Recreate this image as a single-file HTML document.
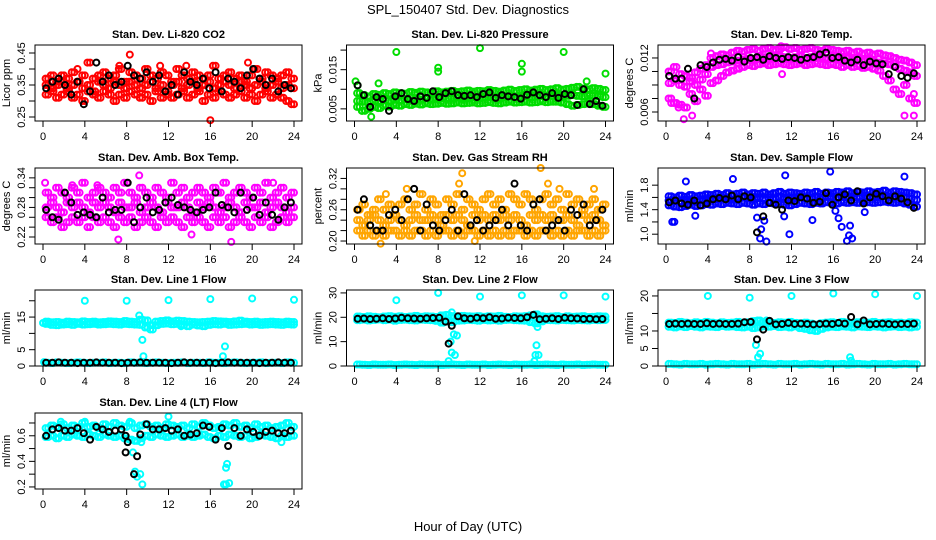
<!DOCTYPE html>
<html><head><meta charset="utf-8"><style>
html,body{margin:0;padding:0;background:#fff;}
svg{display:block;font-family:"Liberation Sans",Arial,sans-serif;}
</style></head><body>
<svg id="chart" width="936" height="540" viewBox="0 0 936 540">
<text x="468" y="14" text-anchor="middle" font-size="13">SPL_150407  Std. Dev. Diagnostics</text>
<text x="468" y="531" text-anchor="middle" font-size="13">Hour of Day (UTC)</text>
</svg>
<script>
const hoursColor=[0.25,0.75,1.25,1.75,2.25,2.75,3.25,3.75,4.25,4.75,5.25,5.75,6.25,6.75,7.25,7.75,8.25,8.75,9.25,9.75,10.25,10.75,11.25,11.75,12.25,12.75,13.25,13.75,14.25,14.75,15.25,15.75,16.25,16.75,17.25,17.75,18.25,18.75,19.25,19.75,20.25,20.75,21.25,21.75,22.25,22.75,23.25,23.75];
const hoursBlack=[0.3,0.9,1.5,2.1,2.7,3.3,3.9,4.5,5.1,5.7,6.3,6.9,7.5,8.1,8.7,9.3,9.9,10.5,11.1,11.7,12.3,12.9,13.5,14.1,14.7,15.3,15.9,16.5,17.1,17.7,18.3,18.9,19.5,20.1,20.7,21.3,21.9,22.5,23.1,23.7];
const xTicks=[0,4,8,12,16,20,24];

const co2Hi=[0.37,0.38,0.36,0.38,0.37,0.39,0.36,0.38,0.42,0.37,0.38,0.39,0.37,0.38,0.40,0.36,0.39,0.38,0.37,0.40,0.38,0.37,0.39,0.38,0.36,0.40,0.38,0.37,0.39,0.38,0.37,0.38,0.41,0.37,0.38,0.39,0.37,0.38,0.36,0.38,0.40,0.37,0.39,0.38,0.37,0.38,0.39,0.37];
const co2Mid=[0.35,0.34,0.35,0.36,0.34,0.35,0.36,0.34,0.35,0.33,0.36,0.35,0.34,0.36,0.35,0.34,0.36,0.35,0.34,0.35,0.36,0.34,0.35,0.33,0.35,0.36,0.34,0.35,0.36,0.34,0.35,0.36,0.34,0.35,0.36,0.35,0.34,0.36,0.35,0.34,0.35,0.36,0.34,0.35,0.36,0.34,0.35,0.34];
const co2Lo=[0.32,0.33,0.31,0.32,0.33,0.31,0.32,0.30,0.33,0.32,0.31,0.33,0.32,0.30,0.32,0.31,0.33,0.32,0.31,0.32,0.30,0.33,0.31,0.32,0.31,0.32,0.33,0.31,0.32,0.33,0.30,0.32,0.31,0.33,0.32,0.31,0.32,0.33,0.31,0.32,0.30,0.32,0.33,0.31,0.32,0.31,0.30,0.29];
const co2Out=[[8.3,0.445],[16,0.24],[13.7,0.41],[19.6,0.42],[11.2,0.41],[3.3,0.40],[7.3,0.41]];
const co2Black=[0.34,0.36,0.37,0.35,0.32,0.36,0.29,0.33,0.42,0.36,0.38,0.35,0.36,0.41,0.38,0.37,0.39,0.36,0.38,0.33,0.35,0.32,0.39,0.36,0.35,0.37,0.34,0.39,0.33,0.37,0.36,0.34,0.38,0.40,0.37,0.35,0.37,0.33,0.35,0.34];

const prHi=[0.0090,0.0085,0.0082,0.0088,0.0086,0.0090,0.0088,0.0092,0.0090,0.0089,0.0093,0.0091,0.0094,0.0092,0.0090,0.0095,0.0092,0.0094,0.0096,0.0093,0.0095,0.0097,0.0094,0.0096,0.0095,0.0098,0.0096,0.0094,0.0097,0.0099,0.0096,0.0098,0.0100,0.0097,0.0099,0.0101,0.0098,0.0100,0.0103,0.0099,0.0101,0.0104,0.0106,0.0102,0.0100,0.0103,0.0101,0.0098];
const prMid=[0.0070,0.0068,0.0066,0.0071,0.0069,0.0072,0.0070,0.0073,0.0071,0.0074,0.0072,0.0075,0.0073,0.0076,0.0074,0.0075,0.0077,0.0075,0.0076,0.0078,0.0076,0.0077,0.0079,0.0077,0.0078,0.0080,0.0078,0.0077,0.0079,0.0081,0.0079,0.0080,0.0082,0.0080,0.0081,0.0083,0.0081,0.0082,0.0084,0.0082,0.0083,0.0085,0.0083,0.0082,0.0084,0.0083,0.0082,0.0080];
const prLo=[0.0055,0.0045,0.0050,0.0055,0.0052,0.0058,0.0056,0.0060,0.0058,0.0062,0.0060,0.0063,0.0061,0.0064,0.0062,0.0063,0.0065,0.0063,0.0064,0.0066,0.0064,0.0065,0.0066,0.0064,0.0065,0.0067,0.0065,0.0064,0.0066,0.0068,0.0066,0.0067,0.0068,0.0066,0.0067,0.0069,0.0067,0.0068,0.0068,0.0066,0.0062,0.0058,0.0060,0.0062,0.0064,0.0062,0.0058,0.0055];
const prOut=[[0.1,0.012],[0.3,0.011],[0.7,0.0045],[1.6,0.003],[4,0.0195],[8,0.0155],[8,0.0145],[12,0.0205],[16,0.0165],[16,0.0145],[20,0.0195],[24,0.014],[22.2,0.012],[2.3,0.0115]];
const prBlack=[0.0110,0.0085,0.0055,0.0080,0.0075,0.0045,0.0082,0.0090,0.0075,0.0070,0.0082,0.0078,0.0095,0.0080,0.0090,0.0095,0.0085,0.0083,0.0085,0.0080,0.0088,0.0092,0.0078,0.0085,0.0082,0.0080,0.0076,0.0086,0.0092,0.0085,0.0080,0.0090,0.0078,0.0088,0.0085,0.0060,0.0100,0.0062,0.0070,0.0058];

const tpHi=[0.0105,0.0110,0.0102,0.0100,0.0098,0.0104,0.0108,0.0112,0.0120,0.0122,0.0124,0.0123,0.0126,0.0128,0.0127,0.0129,0.0130,0.0128,0.0130,0.0131,0.0129,0.0130,0.0132,0.0130,0.0131,0.0129,0.0130,0.0131,0.0129,0.0128,0.0130,0.0129,0.0128,0.0127,0.0128,0.0126,0.0127,0.0125,0.0126,0.0124,0.0125,0.0123,0.0122,0.0120,0.0118,0.0117,0.0115,0.0112];
const tpMid=[0.0092,0.0095,0.0090,0.0088,0.0094,0.0090,0.0096,0.0102,0.0110,0.0112,0.0113,0.0115,0.0116,0.0117,0.0118,0.0119,0.0119,0.0120,0.0121,0.0120,0.0121,0.0122,0.0121,0.0120,0.0121,0.0122,0.0120,0.0121,0.0122,0.0121,0.0120,0.0121,0.0120,0.0119,0.0120,0.0118,0.0119,0.0117,0.0118,0.0116,0.0115,0.0114,0.0113,0.0111,0.0108,0.0106,0.0104,0.0100];
const tpLo=[0.0075,0.0070,0.0068,0.0065,0.0080,0.0072,0.0085,0.0078,0.0092,0.0095,0.0100,0.0104,0.0106,0.0108,0.0110,0.0112,0.0111,0.0113,0.0114,0.0112,0.0113,0.0114,0.0113,0.0112,0.0113,0.0114,0.0112,0.0113,0.0114,0.0113,0.0112,0.0113,0.0112,0.0110,0.0112,0.0110,0.0111,0.0109,0.0110,0.0108,0.0106,0.0100,0.0095,0.0085,0.0080,0.0090,0.0075,0.0070];
const tpOut=[[1.7,0.0052],[2.5,0.0056],[4.3,0.0125],[11,0.0133],[11.1,0.0102],[22.8,0.0056],[23.7,0.0056],[23.7,0.0080],[0.5,0.0070],[1.2,0.0065]];
const tpBlack=[0.0100,0.0097,0.0097,0.0108,0.0075,0.0112,0.0110,0.0115,0.0118,0.0119,0.0117,0.0121,0.0116,0.0120,0.0121,0.0118,0.0122,0.0120,0.0119,0.0121,0.0120,0.0118,0.0120,0.0121,0.0124,0.0126,0.0120,0.0121,0.0117,0.0115,0.0118,0.0112,0.0116,0.0114,0.0113,0.0102,0.0110,0.0100,0.0098,0.0103];

const abHi=[0.31,0.30,0.32,0.31,0.30,0.32,0.31,0.33,0.30,0.31,0.32,0.31,0.30,0.32,0.31,0.33,0.31,0.30,0.32,0.31,0.30,0.32,0.31,0.30,0.33,0.31,0.32,0.30,0.31,0.32,0.31,0.30,0.32,0.31,0.33,0.30,0.31,0.32,0.31,0.30,0.32,0.31,0.33,0.30,0.31,0.32,0.30,0.31];
const abMid=[0.28,0.29,0.28,0.27,0.29,0.28,0.29,0.28,0.27,0.29,0.28,0.29,0.28,0.27,0.29,0.28,0.28,0.29,0.27,0.28,0.29,0.28,0.27,0.29,0.28,0.28,0.29,0.28,0.27,0.29,0.28,0.29,0.28,0.27,0.28,0.29,0.28,0.27,0.29,0.28,0.28,0.29,0.27,0.28,0.29,0.28,0.27,0.28];
const abLo=[0.26,0.25,0.26,0.24,0.25,0.26,0.25,0.26,0.24,0.26,0.25,0.26,0.25,0.24,0.26,0.25,0.26,0.24,0.25,0.26,0.25,0.24,0.26,0.25,0.26,0.25,0.24,0.26,0.25,0.26,0.25,0.24,0.26,0.25,0.26,0.24,0.25,0.26,0.25,0.24,0.26,0.25,0.26,0.24,0.25,0.26,0.25,0.26];
const abOut=[[0.2,0.33],[7.2,0.215],[9.2,0.345],[14.2,0.225],[18,0.21],[22,0.33],[2.8,0.325],[5.2,0.325]];
const abBlack=[0.275,0.26,0.255,0.31,0.29,0.265,0.27,0.265,0.26,0.30,0.27,0.275,0.275,0.33,0.25,0.28,0.30,0.27,0.275,0.29,0.30,0.285,0.28,0.275,0.27,0.275,0.28,0.31,0.285,0.28,0.27,0.31,0.275,0.30,0.265,0.29,0.265,0.255,0.28,0.29];

const rhHi=[0.26,0.27,0.25,0.26,0.28,0.26,0.27,0.25,0.27,0.28,0.26,0.27,0.29,0.26,0.28,0.27,0.25,0.28,0.27,0.29,0.26,0.28,0.27,0.26,0.28,0.29,0.27,0.28,0.26,0.29,0.28,0.27,0.29,0.28,0.26,0.28,0.29,0.27,0.28,0.26,0.29,0.27,0.28,0.26,0.27,0.28,0.26,0.27];
const rhMid=[0.24,0.23,0.24,0.25,0.24,0.23,0.24,0.25,0.24,0.23,0.24,0.25,0.24,0.24,0.25,0.24,0.23,0.25,0.24,0.25,0.24,0.23,0.25,0.24,0.25,0.24,0.25,0.24,0.25,0.24,0.25,0.24,0.23,0.25,0.24,0.25,0.24,0.25,0.24,0.24,0.25,0.24,0.23,0.25,0.24,0.25,0.24,0.23];
const rhLo=[0.22,0.21,0.22,0.21,0.22,0.21,0.22,0.22,0.21,0.22,0.21,0.22,0.22,0.21,0.22,0.21,0.22,0.22,0.21,0.22,0.21,0.22,0.22,0.21,0.22,0.21,0.22,0.21,0.22,0.21,0.22,0.22,0.21,0.22,0.21,0.22,0.22,0.21,0.22,0.21,0.22,0.21,0.22,0.22,0.21,0.22,0.21,0.22];
const rhOut=[[2.5,0.195],[3,0.29],[10,0.31],[10.3,0.33],[11.5,0.2],[17.8,0.34],[18.5,0.31],[19.6,0.3],[22.9,0.30],[5,0.30]];
const rhBlack=[0.26,0.28,0.23,0.22,0.22,0.25,0.26,0.24,0.28,0.30,0.22,0.27,0.23,0.22,0.24,0.26,0.22,0.29,0.23,0.24,0.22,0.23,0.24,0.26,0.23,0.31,0.23,0.22,0.27,0.28,0.22,0.23,0.24,0.22,0.26,0.25,0.27,0.23,0.24,0.26];

const sfHi=[1.62,1.60,1.63,1.61,1.64,1.62,1.63,1.65,1.64,1.66,1.64,1.67,1.65,1.66,1.68,1.65,1.67,1.66,1.68,1.65,1.67,1.69,1.66,1.68,1.67,1.66,1.68,1.67,1.69,1.66,1.68,1.67,1.69,1.68,1.70,1.67,1.69,1.68,1.70,1.68,1.69,1.71,1.68,1.70,1.69,1.68,1.67,1.65];
const sfMid=[1.55,1.54,1.53,1.56,1.55,1.54,1.57,1.56,1.58,1.57,1.59,1.58,1.57,1.59,1.60,1.58,1.59,1.60,1.58,1.60,1.59,1.61,1.60,1.59,1.60,1.61,1.59,1.60,1.61,1.60,1.62,1.61,1.60,1.62,1.61,1.62,1.61,1.63,1.62,1.61,1.62,1.63,1.62,1.61,1.62,1.60,1.58,1.56];
const sfLo=[1.47,1.45,1.44,1.46,1.48,1.46,1.47,1.49,1.48,1.50,1.49,1.51,1.50,1.49,1.51,1.50,1.48,1.50,1.49,1.51,1.50,1.49,1.48,1.47,1.49,1.51,1.50,1.49,1.51,1.50,1.52,1.51,1.50,1.52,1.51,1.52,1.51,1.53,1.52,1.51,1.52,1.53,1.52,1.51,1.52,1.50,1.48,1.45];
const sfOut=[[0.6,1.2],[0.8,1.2],[1.9,1.86],[2.8,1.3],[6.4,1.9],[8.7,1.27],[9.0,0.93],[9.1,1.08],[9.4,1.22],[9.6,0.88],[11.4,1.96],[11.8,1.0],[15.7,2.02],[16.2,1.38],[16.5,1.26],[16.8,1.12],[17.3,0.89],[17.5,0.98],[17.6,1.14],[17.8,0.93],[19.0,1.36],[22.8,1.94],[11.3,1.29],[14,1.23]];
const sfBlack=[1.52,1.55,1.50,1.48,1.55,1.47,1.50,1.57,1.59,1.57,1.63,1.57,1.62,1.60,1.03,1.29,1.51,1.48,1.40,1.55,1.54,1.60,1.58,1.51,1.53,1.67,1.48,1.60,1.65,1.55,1.70,1.50,1.60,1.66,1.62,1.55,1.62,1.58,1.52,1.43];

const l1Hi=[13.6,13.4,13.5,13.3,13.6,13.5,13.4,13.7,13.5,13.6,13.4,13.5,13.7,13.6,13.5,13.8,13.6,13.5,14.2,14.0,12.5,13.6,13.8,14.0,13.7,13.9,13.8,13.6,13.5,13.4,13.5,13.6,13.8,13.7,13.6,13.5,13.7,13.9,13.6,13.5,13.6,13.4,13.5,13.6,13.5,13.4,13.6,13.5];
const l1Lo=[12.9,12.6,12.5,12.7,12.8,12.6,12.9,12.7,12.8,12.9,12.7,12.8,12.9,12.8,12.7,12.9,12.8,12.7,12.6,11.8,11.2,12.5,12.9,13.0,12.8,12.9,12.6,12.2,12.7,12.4,12.2,12.6,12.8,12.7,12.9,12.6,12.7,12.8,12.9,12.7,12.8,12.6,12.7,12.8,12.7,12.6,12.8,12.7];
const l1Base=[1.0,0.9,1.1,1.0,0.9,1.0,1.1,1.0,0.9,1.0,1.0,1.1,0.9,1.0,1.0,0.9,1.1,1.0,1.0,0.9,1.0,1.1,1.0,0.9,1.0,1.0,1.1,0.9,1.0,1.0,0.9,1.1,1.0,1.0,0.9,1.0,1.1,1.0,0.9,1.0,1.0,1.1,0.9,1.0,1.0,0.9,1.1,1.0];
const l1Out=[[4,20],[8,20],[12,20.2],[16,20.5],[20,20.7],[24,20.3],[9.5,8],[9.6,3],[17.2,3],[17.4,6],[9.2,15.5],[13.2,12.2],[0,13.2],[0.1,1.2]];
const l1Black=[1.0,1.0,1.1,1.0,1.0,0.9,1.0,1.0,1.1,1.0,1.0,1.0,0.9,1.0,1.0,1.1,1.0,1.0,1.0,1.0,0.9,1.0,1.1,1.0,1.0,1.0,1.0,0.9,1.0,1.1,1.0,1.0,1.0,1.0,0.9,1.0,1.0,1.1,1.0,1.0];

const l2Hi=[20.3,20.1,20.4,20.2,20.0,20.3,20.5,20.2,20.4,20.1,20.3,20.6,20.2,20.4,20.3,20.1,20.8,21.0,20.5,20.2,20.6,20.4,20.3,20.5,20.2,20.4,20.3,20.6,20.2,20.1,20.4,20.3,20.5,20.8,21.2,20.4,20.2,20.3,20.5,20.1,20.4,20.2,20.3,20.5,20.1,20.2,20.4,20.3];
const l2Lo=[18.8,19.0,18.7,18.9,19.1,18.8,19.0,18.6,18.9,19.0,18.8,18.7,19.0,18.9,18.8,18.5,17.8,18.2,18.0,18.6,18.7,18.9,18.8,18.6,18.9,18.7,18.8,18.6,18.9,19.0,18.8,18.7,18.6,18.0,17.5,18.3,18.9,18.8,18.7,18.9,18.8,18.7,18.9,18.8,18.7,18.9,18.8,18.9];
const l2Base=[0.6,0.5,0.4,0.6,0.5,0.5,0.6,0.4,0.5,0.6,0.5,0.4,0.6,0.5,0.5,0.6,0.4,0.5,0.6,0.5,0.4,0.6,0.5,0.5,0.6,0.4,0.5,0.6,0.5,0.4,0.6,0.5,0.5,0.6,0.4,0.5,0.6,0.5,0.4,0.6,0.5,0.5,0.6,0.4,0.5,0.6,0.5,0.5];
const l2Out=[[4,27],[8,30],[12,28.5],[16,29],[20,29],[24,28.5],[9.3,22],[9.2,10],[9.5,13],[9.3,5.5],[9.6,4.5],[9.8,12.5],[17.3,4.5],[17.4,8.5],[17.6,4.5],[17.5,16],[17.2,2],[9.0,2]];
const l2Black=[19.4,19.5,19.3,19.4,19.6,19.3,19.5,19.8,19.6,19.5,19.4,19.6,19.7,19.8,18.2,16.5,20.4,19.6,19.4,19.8,19.6,20.0,19.4,19.5,19.8,19.7,19.6,20.0,21.0,19.2,19.4,19.6,19.3,19.8,19.6,19.5,19.3,19.4,19.2,19.3];
const l2BlackOut=[[9.0,9.2]];

const l3Hi=[12.4,12.3,12.6,12.4,12.2,12.5,12.3,12.6,12.4,12.2,12.5,12.3,12.4,12.6,12.3,12.5,12.8,13.0,12.6,12.4,12.3,12.5,12.4,12.6,12.3,12.2,12.4,12.1,11.8,12.2,12.4,12.5,12.3,12.6,12.4,12.2,12.5,12.3,12.4,12.6,12.3,12.4,12.5,12.3,12.4,12.2,12.5,12.4];
const l3Lo=[11.2,11.0,11.3,11.1,11.4,11.2,11.0,11.3,11.2,11.1,11.4,11.2,11.3,11.1,11.0,11.2,10.8,11.0,11.3,11.2,11.4,11.1,11.2,11.0,11.3,10.8,10.6,10.2,10.0,10.6,11.0,11.2,11.1,11.3,11.2,11.0,11.3,11.2,11.1,11.3,11.2,11.0,11.2,11.3,11.1,11.2,11.0,11.2];
const l3Base=[0.6,0.5,0.4,0.6,0.5,0.5,0.6,0.4,0.5,0.6,0.5,0.4,0.6,0.5,0.5,0.6,0.4,0.5,0.6,0.5,0.4,0.6,0.5,0.5,0.6,0.4,0.5,0.6,0.5,0.4,0.6,0.5,0.5,0.6,0.4,0.5,0.6,0.5,0.4,0.6,0.5,0.5,0.6,0.4,0.5,0.6,0.5,0.5];
const l3Out=[[4,20],[8,19.5],[12,20],[16,20.7],[20,20.5],[24,20],[8.6,6],[8.8,2.5],[9.0,3.5],[17.6,2.5],[17.7,1.5],[8.5,12.8],[9.6,13]];
const l3Black=[12.0,12.1,12.0,12.1,12.0,12.0,12.2,12.0,12.1,12.0,12.0,12.1,12.5,12.6,7.6,10.4,12.9,11.9,12.0,12.3,12.0,12.1,12.0,11.9,12.0,12.1,12.0,12.3,12.1,14.0,11.9,13.0,11.9,12.0,12.1,12.0,11.9,12.0,12.0,12.1];

const l4Hi=[0.66,0.68,0.67,0.69,0.66,0.68,0.67,0.70,0.67,0.68,0.66,0.69,0.67,0.70,0.68,0.67,0.70,0.66,0.68,0.69,0.67,0.68,0.66,0.69,0.68,0.67,0.68,0.66,0.69,0.67,0.70,0.68,0.66,0.67,0.69,0.68,0.70,0.67,0.68,0.66,0.69,0.67,0.68,0.66,0.67,0.68,0.70,0.67];
const l4Lo=[0.59,0.60,0.58,0.60,0.59,0.61,0.60,0.59,0.61,0.60,0.59,0.61,0.60,0.59,0.60,0.58,0.57,0.56,0.58,0.60,0.59,0.61,0.60,0.59,0.60,0.61,0.59,0.60,0.59,0.60,0.61,0.59,0.58,0.60,0.59,0.61,0.60,0.59,0.60,0.58,0.59,0.61,0.60,0.59,0.58,0.60,0.59,0.60];
const l4Out=[[8.6,0.47],[8.8,0.32],[9.0,0.28],[9.3,0.30],[9.5,0.22],[9.4,0.55],[17.3,0.22],[17.5,0.35],[17.6,0.38],[17.8,0.23],[17.5,0.22],[12,0.75],[1.7,0.71],[8.3,0.71],[4,0.71],[22.8,0.55]];
const l4Black=[0.60,0.65,0.66,0.64,0.64,0.66,0.62,0.57,0.67,0.65,0.63,0.64,0.65,0.55,0.30,0.61,0.69,0.65,0.65,0.66,0.64,0.65,0.60,0.61,0.62,0.68,0.67,0.57,0.66,0.52,0.66,0.60,0.65,0.63,0.60,0.63,0.64,0.62,0.62,0.64];
const l4BlackOut=[[7.9,0.47],[9.0,0.44],[7.9,0.60]];

const panels=[
 {name:"co2",title:"Stan. Dev. Li-820 CO2",ylab:"Licor ppm",col:0,row:0,ymin:0.2375,ymax:0.475,ticks:[0.25,0.30,0.35,0.40,0.45],labels:[0.25,0.35,0.45],dec:2,color:"#ff0000",series:[co2Hi,co2Mid,co2Lo],out:co2Out,black:co2Black,blackOut:[]},
 {name:"pressure",title:"Stan. Dev. Li-820 Pressure",ylab:"kPa",col:1,row:0,ymin:0.0019,ymax:0.0213,ticks:[0.005,0.010,0.015,0.020],labels:[0.005,0.015],dec:3,color:"#00dd00",series:[prHi,prMid,prLo],out:prOut,black:prBlack,blackOut:[]},
 {name:"temp",title:"Stan. Dev. Li-820 Temp.",ylab:"degrees C",col:2,row:0,ymin:0.0050,ymax:0.01344,ticks:[0.006,0.0075,0.009,0.0105,0.012],labels:[0.006,0.012],dec:3,color:"#ff00ff",series:[tpHi,tpMid,tpLo],out:tpOut,black:tpBlack,blackOut:[]},
 {name:"amb-box-temp",title:"Stan. Dev. Amb. Box Temp.",ylab:"degrees C",col:0,row:1,ymin:0.2058,ymax:0.360,ticks:[0.22,0.24,0.26,0.28,0.30,0.32,0.34],labels:[0.22,0.28,0.34],dec:2,color:"#ff00ff",series:[abHi,abMid,abLo],out:abOut,black:abBlack,blackOut:[]},
 {name:"gas-stream-rh",title:"Stan. Dev. Gas Stream RH",ylab:"percent",col:1,row:1,ymin:0.1943,ymax:0.34,ticks:[0.20,0.22,0.24,0.26,0.28,0.30,0.32],labels:[0.20,0.26,0.32],dec:2,color:"#ffa500",series:[rhHi,rhMid,rhLo],out:rhOut,black:rhBlack,blackOut:[]},
 {name:"sample-flow",title:"Stan. Dev. Sample Flow",ylab:"ml/min",col:2,row:1,ymin:0.84,ymax:2.08,ticks:[1.0,1.2,1.4,1.6,1.8],labels:[1.0,1.4,1.8],dec:1,color:"#0000ff",series:[sfHi,sfMid,sfLo],out:sfOut,black:sfBlack,blackOut:[]},
 {name:"line1-flow",title:"Stan. Dev. Line 1 Flow",ylab:"ml/min",col:0,row:2,ymin:0,ymax:23.3,ticks:[0,5,10,15,20],labels:[0,5,15],dec:0,color:"#00ffff",series:[l1Base,l1Hi,l1Lo],out:l1Out,black:l1Black,blackOut:[]},
 {name:"line2-flow",title:"Stan. Dev. Line 2 Flow",ylab:"ml/min",col:1,row:2,ymin:0,ymax:31.2,ticks:[0,10,20,30],labels:[0,10,20,30],dec:0,color:"#00ffff",series:[l2Base,l2Hi,l2Lo],out:l2Out,black:l2Black,blackOut:l2BlackOut},
 {name:"line3-flow",title:"Stan. Dev. Line 3 Flow",ylab:"ml/min",col:2,row:2,ymin:0,ymax:21.7,ticks:[0,5,10,15,20],labels:[0,5,10,20],dec:0,color:"#00ffff",series:[l3Base,l3Hi,l3Lo],out:l3Out,black:l3Black,blackOut:[]},
 {name:"line4-flow",title:"Stan. Dev. Line 4 (LT) Flow",ylab:"ml/min",col:0,row:3,ymin:0.184,ymax:0.778,ticks:[0.2,0.3,0.4,0.5,0.6,0.7],labels:[0.2,0.4,0.6],dec:1,color:"#00ffff",series:[l4Hi,l4Lo],out:l4Out,black:l4Black,blackOut:l4BlackOut}
];

const NS="http://www.w3.org/2000/svg";
const svg=document.getElementById("chart");
const colLeft=[35,346.5,658], rowTop=[45,168,290,413], W=267, H=76;
function mk(tag,attrs,parent){const e=document.createElementNS(NS,tag);for(const k in attrs)e.setAttribute(k,attrs[k]);parent.appendChild(e);return e;}

panels.forEach(p=>{
  const L=colLeft[p.col], T=rowTop[p.row];
  const g=mk("g",{},svg);
  
  
  const xs=h=>L+8+(h/24)*(W-16);
  const ys=v=>T+H-(v-p.ymin)/(p.ymax-p.ymin)*H;
  const t=mk("text",{x:L+W/2,y:T-7,"text-anchor":"middle","font-size":"11","font-weight":"bold"},g);
  t.textContent=p.title;
  
  
  const pts=mk("g",{fill:"none","stroke-width":"2"},g);
  
  
  p.series.forEach(arr=>arr.forEach((v,i)=>{
    [0,0.25].forEach(dx=>{
      const hx=Math.min(24,hoursColor[i]+dx);
      const c=mk("circle",{cx:xs(hx),cy:ys(v),r:3,stroke:p.color},pts);
      
      
    });
  }));
  p.out.forEach(o=>{
    const c=mk("circle",{cx:xs(o[0]),cy:ys(o[1]),r:3,stroke:p.color},pts);
    
    
  });
  p.black.forEach((v,i)=>{
    const c=mk("circle",{cx:xs(hoursBlack[i]),cy:ys(v),r:3,stroke:"#000"},pts);
    
    
  });
  p.blackOut.forEach(o=>{
    const c=mk("circle",{cx:xs(o[0]),cy:ys(o[1]),r:3,stroke:"#000"},pts);
    
    
  });
  const b=mk("rect",{x:L,y:T,width:W,height:H,fill:"none",stroke:"#000","stroke-width":"1"},g);
  
  
  const xa=mk("g",{},g);
  
  
  mk("line",{x1:xs(0),x2:xs(24),y1:T+H,y2:T+H,stroke:"#000"},xa);
  xTicks.forEach(h=>{
    mk("line",{x1:xs(h),x2:xs(h),y1:T+H,y2:T+H+6,stroke:"#000"},xa);
    const tx=mk("text",{x:xs(h),y:T+H+19,"text-anchor":"middle","font-size":"11"},xa);
    tx.textContent=h;
    
    
  });
  const ya=mk("g",{},g);
  
  
  p.ticks.forEach(v=>{
    mk("line",{x1:L-6,x2:L,y1:ys(v),y2:ys(v),stroke:"#000"},ya);
  });
  p.labels.forEach(v=>{
    const y=ys(v), x=L-10;
    const tx=mk("text",{x:x,y:y,"text-anchor":"middle","font-size":"11",transform:`rotate(-90 ${x} ${y})`},ya);
    tx.textContent=v.toFixed(p.dec);
    
    
  });
  const yx=L-25, yy=T+H/2;
  const yl=mk("text",{x:yx,y:yy,"text-anchor":"middle","font-size":"11",transform:`rotate(-90 ${yx} ${yy})`},g);
  yl.textContent=p.ylab;
  
  
});
</script>
</body></html>
